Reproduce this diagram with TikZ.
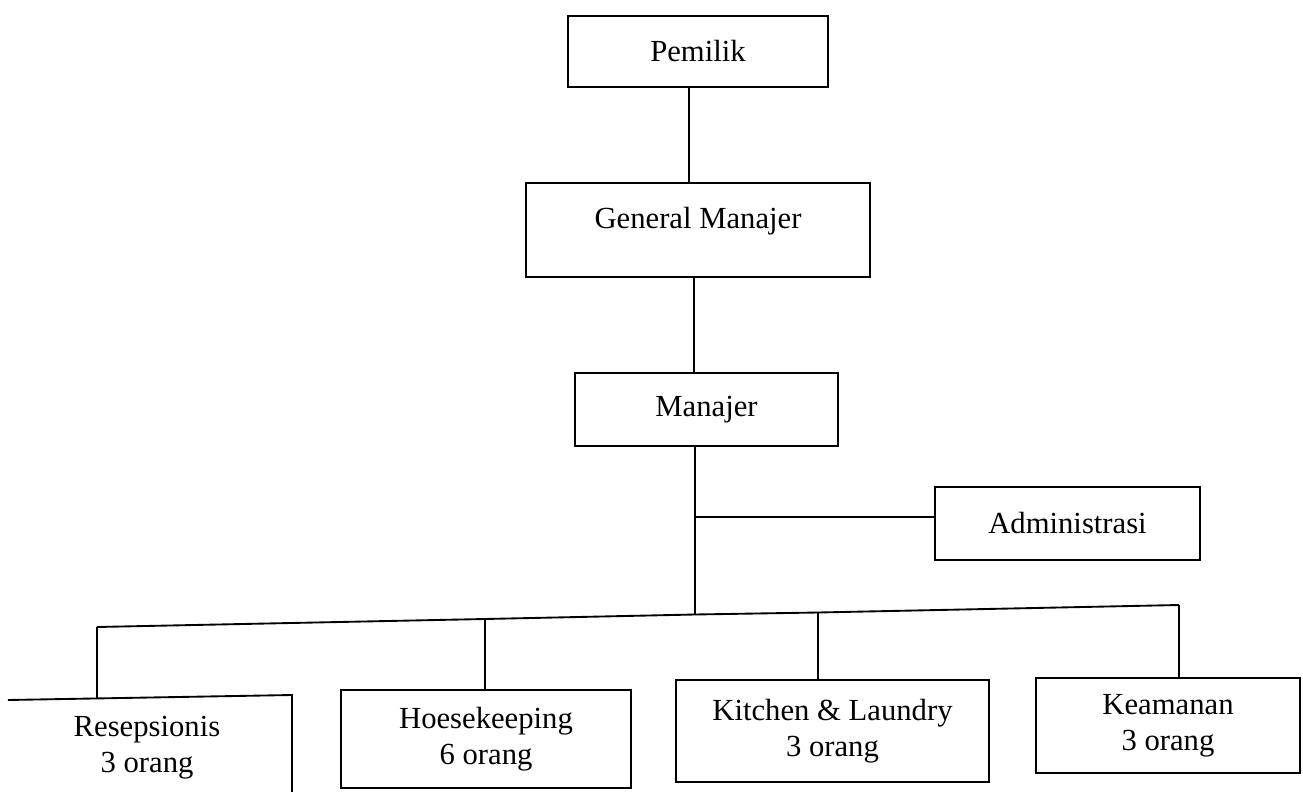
\documentclass[tikz,border=0pt]{standalone}
\usepackage{fontspec}
\setmainfont{Liberation Serif}
\begin{document}
\begin{tikzpicture}[x=0.75pt,y=-0.75pt,
  box/.style={draw, line width=1.4pt, rectangle, inner sep=0pt, align=center, font=\fontsize{23}{27}\selectfont},
  lbl/.style={inner sep=0pt, align=center, font=\fontsize{23}{27}\selectfont},
  link/.style={draw, line width=1.4pt}]
\useasboundingbox (0,0) rectangle (1303,792);
% boxes: centre (x,y), width, height in px
\node[box, minimum width=260*0.75pt, minimum height=71*0.75pt] (pemilik) at (698,51.5) {Pemilik};
\node[box, minimum width=344*0.75pt, minimum height=94*0.75pt] (gm) at (698,230) {\raisebox{18pt}{General Manajer}};
\node[box, minimum width=263*0.75pt, minimum height=73*0.75pt] (man) at (706.5,409.5) {Manajer};
\node[box, minimum width=265*0.75pt, minimum height=73*0.75pt] (adm) at (1067.5,523.5) {Administrasi};
\node[box, minimum width=290*0.75pt, minimum height=98*0.75pt] (hk) at (486,739) {Hoesekeeping\\6 orang};
\node[box, minimum width=313*0.75pt, minimum height=102*0.75pt] (kl) at (832.5,731) {Kitchen \& Laundry\\3 orang};
\node[box, minimum width=264*0.75pt, minimum height=95*0.75pt] (kea) at (1168,725.5) {Keamanan\\3 orang};
\node[lbl] (res) at (147,748) {Resepsionis\\3 orang};
% Resepsionis box, cut by the picture's left and bottom edges
\coordinate (resTL) at (8,700);
\coordinate (resTR) at (292,695);
\coordinate (resBR) at (292,800);
\draw[link] (resTL) -- (resTR) -- (resBR);
% bus and junctions
\coordinate (busL) at (97,627);
\coordinate (busH) at (485,619);
\coordinate (bus) at (695,614.5);
\coordinate (busK) at (818,612.5);
\coordinate (busR) at (1179,605);
\coordinate (admJ) at (695,517);
\coordinate (resTop) at (97,698);
\draw[link] (pemilik.south -| 689,0) -- (gm.north -| 689,0);
\draw[link] (gm.south -| 694,0) -- (man.north -| 694,0);
\draw[link] (man.south -| 695,0) -- (bus);
\draw[link] (admJ) -- (adm.west |- admJ);
\draw[link] (busL) -- (busH) -- (bus) -- (busK) -- (busR);
\draw[link] (busL) -- (resTop);
\draw[link] (busH) -- (hk.north -| busH);
\draw[link] (busK) -- (kl.north -| busK);
\draw[link] (busR) -- (kea.north -| busR);
\end{tikzpicture}
\end{document}
